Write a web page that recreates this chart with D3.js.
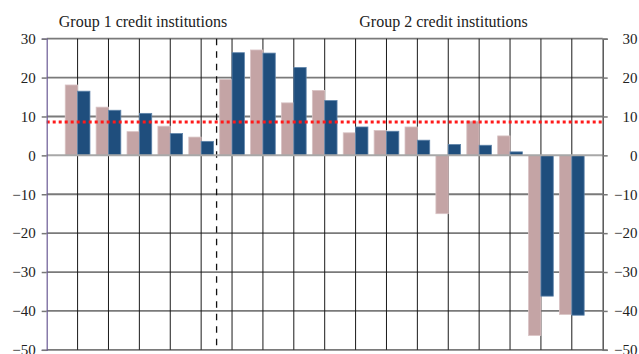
<!DOCTYPE html>
<html>
<head>
<meta charset="utf-8">
<script src="https://cdn.jsdelivr.net/npm/d3@7/dist/d3.min.js"></script>
<style>
  html, body { margin: 0; padding: 0; background: #fff; }
  svg { display: block; }
  text { font-family: "Liberation Serif", "Times New Roman", serif; fill: #222; }
</style>
</head>
<body>
<svg id="chart" width="639" height="354"></svg>
<script>
// Institutions along the x axis (1–5: group 1, 6–17: group 2)
const institutions = ["1","2","3","4","5","6","7","8","9","10","11","12","13","14","15","16","17"];
const group1 = institutions.slice(0, 5);
const group2 = institutions.slice(5);

// Growth rates, per cent
const seriesPink = [18.1, 12.4, 6.1, 7.5, 4.7, 19.5, 27.1, 13.5, 16.7, 5.8, 6.4, 7.3, -15.0, 8.8, 5.0, -46.3, -40.9];
const seriesBlue = [16.5, 11.6, 10.8, 5.6, 3.6, 26.4, 26.3, 22.6, 14.1, 7.3, 6.2, 3.9, 2.8, 2.6, 0.9, -36.2, -41.1];

// Average shown as a dotted reference line
const averageValue = 8.6;

const yTicks = [30, 20, 10, 0, -10, -20, -30, -40, -50];
const groupTitles = ["Group 1 credit institutions", "Group 2 credit institutions"];

const margin = { left: 46.7, right: 36.3, top: 38.7, bottom: 4.2 };
const W = 639, H = 354;
const svg = d3.select("#chart");

const x = d3.scalePoint()
  .domain(institutions)
  .range([margin.left, W - margin.right])
  .padding(1);
const step = x.step();
const barW = step * 0.4;

const y = d3.scaleLinear()
  .domain([-50, 30])
  .range([H - margin.bottom, margin.top]);

const fmt = d => (d < 0 ? "\u2212" + Math.abs(d) : String(d));

// Horizontal gridlines
svg.append("g")
  .selectAll("line")
  .data(yTicks.filter(d => d !== 0))
  .join("line")
  .attr("x1", margin.left).attr("x2", W - margin.right)
  .attr("y1", d => y(d)).attr("y2", d => y(d))
  .attr("stroke", "#7a7a7a").attr("stroke-width", 1.8);

// Vertical gridlines at each institution
svg.append("g")
  .selectAll("line")
  .data(institutions)
  .join("line")
  .attr("x1", d => x(d)).attr("x2", d => x(d))
  .attr("y1", y(30)).attr("y2", y(-50))
  .attr("stroke", "#1a1a1a").attr("stroke-width", 1);

// Separator between the two groups
const sepX = (x(group1[group1.length - 1]) + x(group2[0])) / 2;
svg.append("line")
  .attr("x1", sepX).attr("x2", sepX)
  .attr("y1", y(30)).attr("y2", y(-50))
  .attr("stroke", "#111").attr("stroke-width", 1.3)
  .attr("stroke-dasharray", "6.5,6");

// Bars
const rows = institutions.map((k, i) => ({ k, pink: seriesPink[i], blue: seriesBlue[i] }));
const bars = svg.append("g");
bars.selectAll("rect.pink")
  .data(rows)
  .join("rect")
  .attr("class", "pink")
  .attr("x", d => x(d.k) - barW)
  .attr("width", barW)
  .attr("y", d => y(Math.max(0, d.pink)))
  .attr("height", d => Math.abs(y(d.pink) - y(0)))
  .attr("fill", "#c4a4a5")
  .attr("stroke", "#d9c3c4").attr("stroke-width", 0.8);
bars.selectAll("rect.blue")
  .data(rows)
  .join("rect")
  .attr("class", "blue")
  .attr("x", d => x(d.k))
  .attr("width", barW)
  .attr("y", d => y(Math.max(0, d.blue)))
  .attr("height", d => Math.abs(y(d.blue) - y(0)))
  .attr("fill", "#1f4e7d")
  .attr("stroke", "#5f84aa").attr("stroke-width", 0.8);

// Zero line
svg.append("line")
  .attr("x1", margin.left).attr("x2", W - margin.right)
  .attr("y1", y(0)).attr("y2", y(0))
  .attr("stroke", "#a8a8a8").attr("stroke-width", 2);

// Average line
svg.append("line")
  .attr("x1", margin.left).attr("x2", W - margin.right)
  .attr("y1", y(averageValue)).attr("y2", y(averageValue))
  .attr("stroke", "#ff1a1a").attr("stroke-width", 3)
  .attr("stroke-dasharray", "3,3");

// Left axis
const leftAxis = svg.append("g")
  .attr("transform", `translate(${margin.left},0)`)
  .call(d3.axisLeft(y).tickValues(yTicks).tickFormat(fmt).tickSize(5).tickPadding(6));
leftAxis.select(".domain").attr("stroke", "#6b5b95").attr("stroke-width", 1.2);
leftAxis.selectAll(".tick line").attr("stroke", "#777").attr("stroke-width", 1.5);
leftAxis.selectAll(".tick text")
  .style("font-family", "'Liberation Serif', 'Times New Roman', serif")
  .style("font-size", "15px").style("fill", "#222");

// Right axis
const rightAxis = svg.append("g")
  .attr("transform", `translate(${W - margin.right},0)`)
  .call(d3.axisRight(y).tickValues(yTicks).tickFormat(fmt).tickSize(5).tickPadding(6));
rightAxis.select(".domain").attr("stroke", "#555").attr("stroke-width", 1.5);
rightAxis.selectAll(".tick line").attr("stroke", "#777").attr("stroke-width", 1.5);
rightAxis.selectAll(".tick text")
  .attr("text-anchor", "end")
  .attr("x", W - 1.5 - (W - margin.right))
  .style("font-family", "'Liberation Serif', 'Times New Roman', serif")
  .style("font-size", "15px").style("fill", "#222");

// Group titles
const titleX = [143, 443.5];
svg.append("g")
  .selectAll("text")
  .data(groupTitles)
  .join("text")
  .attr("x", (d, i) => titleX[i])
  .attr("y", 26.5)
  .attr("text-anchor", "middle")
  .style("font-family", "'Liberation Serif', 'Times New Roman', serif")
  .style("font-size", "16px")
  .text(d => d);
</script>
</body>
</html>
